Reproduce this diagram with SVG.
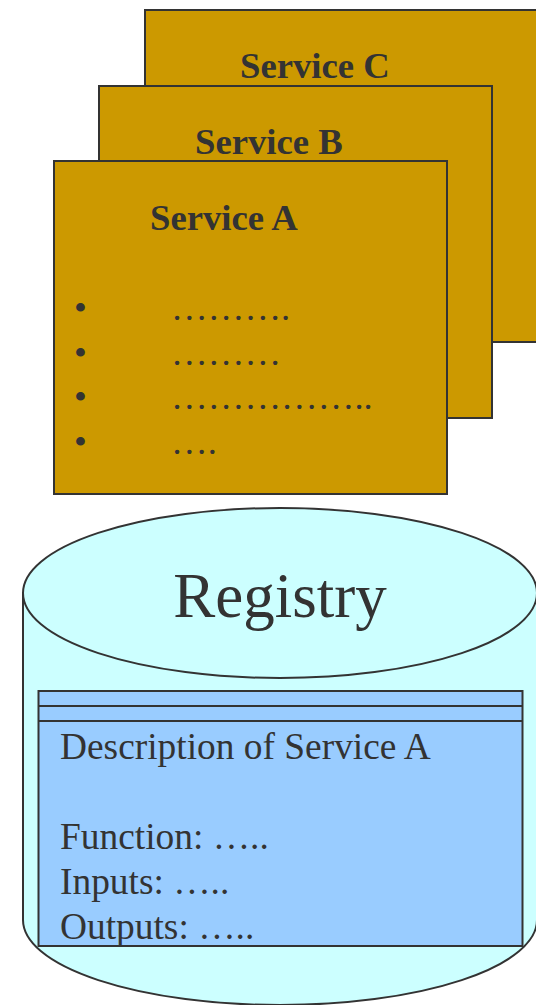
<svg xmlns="http://www.w3.org/2000/svg" width="536" height="1005" viewBox="0 0 536 1005">
  <style>
    .card { fill: #CC9900; stroke: #333333; stroke-width: 2; }
    .title { font-family: "Liberation Serif", "Times New Roman", serif; font-weight: bold; font-size: 36.7px; fill: #333333; }
    .body { font-family: "Liberation Serif", "Times New Roman", serif; font-size: 36.7px; fill: #333333; }
    .record { font-family: "Liberation Serif", "Times New Roman", serif; font-size: 37.4px; fill: #333333; }
    .label { font-family: "Liberation Serif", "Times New Roman", serif; font-size: 63px; fill: #333333; }
    .drum { fill: #CCFFFF; stroke: #333333; stroke-width: 2; }
    .sheet { fill: #99CCFF; stroke: #333333; stroke-width: 2; }
  </style>

  <!-- Stack of service cards, back to front -->
  <g id="service-c">
    <rect class="card" x="145" y="10" width="400" height="332"/>
    <text class="title" x="240" y="78">Service C</text>
  </g>
  <g id="service-b">
    <rect class="card" x="99" y="86" width="393" height="332"/>
    <text class="title" x="195" y="154">Service B</text>
  </g>
  <g id="service-a">
    <rect class="card" x="54" y="161" width="393" height="333"/>
    <text class="title" x="150" y="230">Service A</text>
    <text class="body" y="319.5"><tspan x="74">•</tspan><tspan x="171">……….</tspan></text>
    <text class="body" y="364.5"><tspan x="74">•</tspan><tspan x="171">………</tspan></text>
    <text class="body" y="409"><tspan x="74">•</tspan><tspan x="171">……………..</tspan></text>
    <text class="body" y="453.5"><tspan x="74">•</tspan><tspan x="171">….</tspan></text>
  </g>

  <!-- Registry drum -->
  <g id="registry">
    <path class="drum" d="M23,593 V920 A257,85 0 0 0 537,920 V593 Z"/>
    <ellipse class="drum" cx="280" cy="593" rx="257" ry="85"/>
    <text class="label" x="280" y="617" text-anchor="middle">Registry</text>
  </g>

  <!-- Stored description record -->
  <g id="description">
    <rect class="sheet" x="38.5" y="691" width="484" height="255"/>
    <line x1="38.5" y1="706" x2="522.5" y2="706" stroke="#333333" stroke-width="2"/>
    <line x1="38.5" y1="721" x2="522.5" y2="721" stroke="#333333" stroke-width="2"/>
    <text class="record" x="60" y="759">Description of Service A</text>
    <text class="record" x="60" y="849">Function: …..</text>
    <text class="record" x="60" y="894">Inputs: …..</text>
    <text class="record" x="60" y="939">Outputs: …..</text>
  </g>
</svg>
